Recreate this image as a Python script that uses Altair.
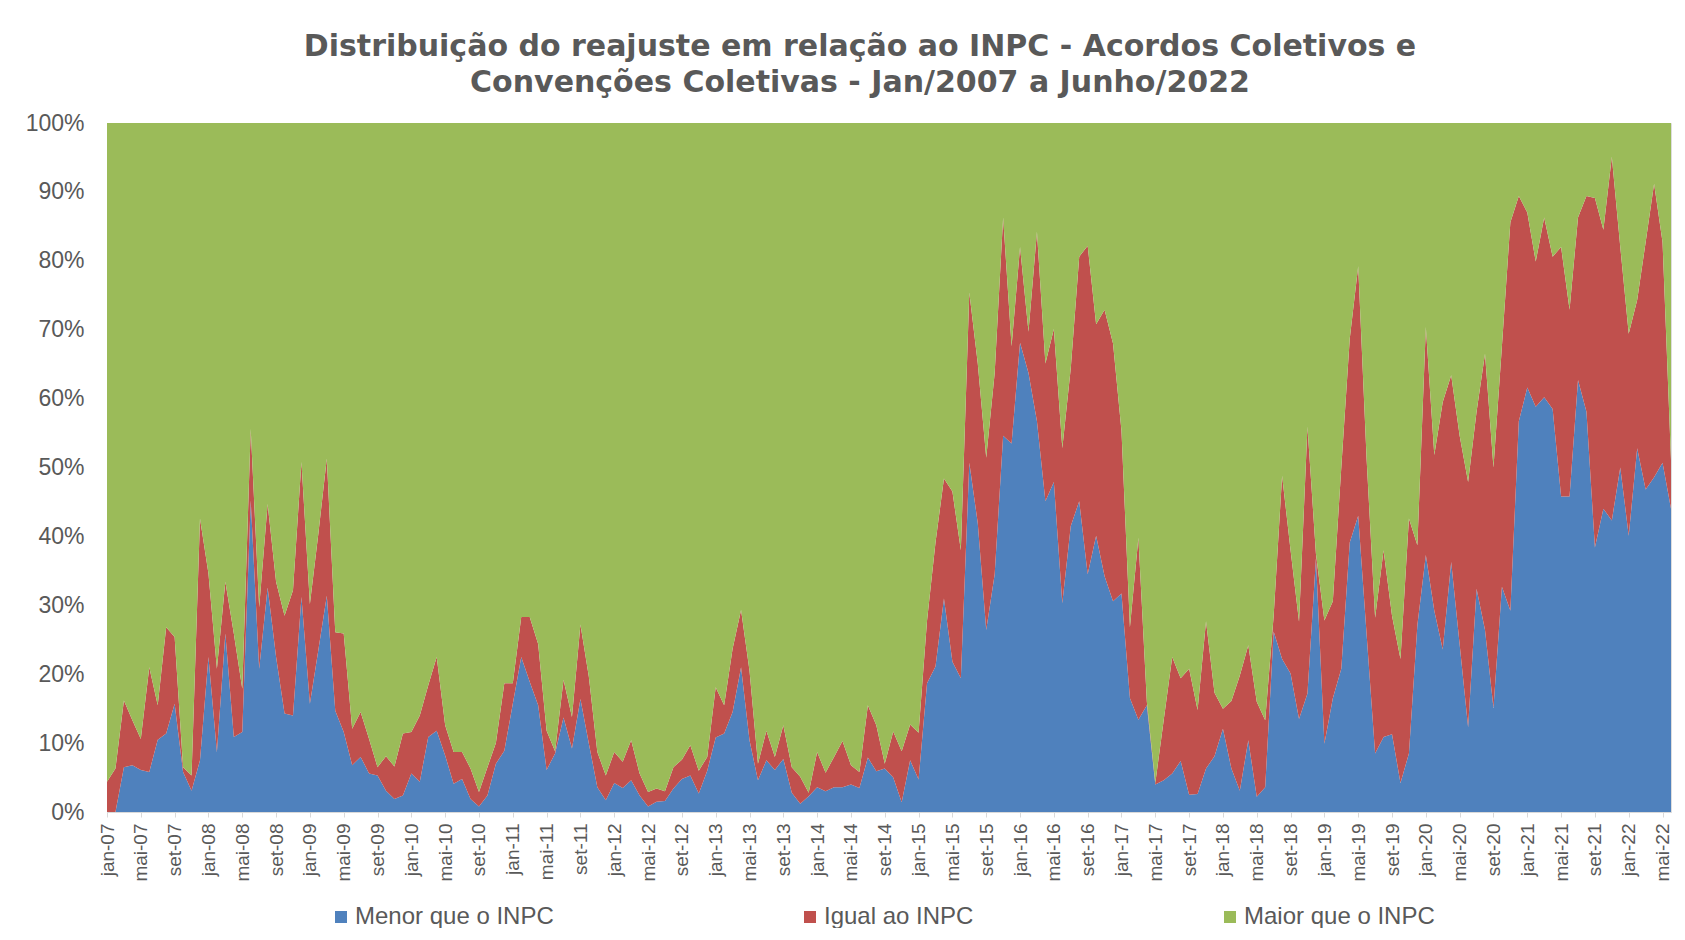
import altair as alt
import pandas as pd

# Month labels (jan-07 .. jun-22)
meses_pt = ["jan", "fev", "mar", "abr", "mai", "jun", "jul", "ago", "set", "out", "nov", "dez"]
anos = list(range(2007, 2023))
labels = [f"{m}-{a % 100:02d}" for a in anos for m in meses_pt][:186]
tick_index = list(range(0, len(labels), 4))

series = ["Menor que o INPC", "Igual ao INPC", "Maior que o INPC"]
colors = ["#4F81BD", "#C0504D", "#9BBB59"]

menor = [
    0.0, 0.0, 6.5, 6.8, 6.1, 5.8, 10.5, 11.4, 15.7, 5.8, 3.1, 7.5,
    22.5, 8.7, 25.9, 10.9, 11.6, 45.2, 20.8, 32.6, 22.5, 14.3, 14.0, 31.2,
    15.7, 23.5, 31.4, 14.7, 11.6, 6.8, 8.0, 5.6, 5.3, 3.1, 1.9, 2.4,
    5.6, 4.4, 10.9, 11.8, 8.2, 4.1, 4.8, 1.9, 0.8, 2.4, 7.0, 8.9,
    15.7, 22.5, 18.9, 15.5, 6.1, 8.5, 13.7, 9.2, 16.4, 9.9, 3.6, 1.7,
    4.2, 3.5, 4.6, 2.4, 0.8, 1.5, 1.6, 3.4, 4.8, 5.3, 2.7, 6.0,
    10.8, 11.4, 14.5, 21.0, 10.4, 4.6, 7.5, 6.1, 7.7, 2.8, 1.2, 2.3,
    3.6, 3.0, 3.6, 3.6, 4.0, 3.5, 7.9, 5.9, 6.3, 5.0, 1.4, 7.5,
    4.7, 18.7, 21.1, 31.0, 21.8, 19.4, 50.7, 41.9, 26.4, 34.5, 54.6, 53.5,
    68.1, 63.7, 56.7, 45.1, 47.9, 30.3, 41.5, 45.1, 34.5, 40.1, 34.2, 30.6,
    31.7, 16.5, 13.4, 15.5, 4.0, 4.6, 5.6, 7.4, 2.5, 2.6, 6.3, 8.1,
    12.1, 6.3, 3.1, 10.4, 2.2, 3.6, 26.2, 22.2, 20.1, 13.5, 17.2, 36.8,
    9.9, 16.5, 20.8, 39.1, 43.0, 25.7, 8.5, 10.9, 11.3, 4.2, 8.5, 27.1,
    37.3, 29.2, 23.6, 36.3, 24.3, 12.3, 32.4, 26.4, 15.1, 32.7, 29.2, 56.7,
    61.6, 58.8, 60.2, 58.5, 45.8, 45.8, 62.7, 58.1, 38.4, 44.0, 42.3, 50.0,
    40.1, 52.8, 46.8, 48.6, 50.7, 44.0,
]

igual = [
    4.4, 6.3, 9.7, 6.5, 4.5, 15.2, 5.0, 15.4, 9.7, 0.7, 2.2, 35.1,
    12.1, 12.1, 7.5, 15.0, 6.3, 10.4, 8.9, 12.1, 10.9, 14.2, 18.2, 19.6,
    14.5, 16.9, 19.9, 11.4, 14.3, 5.3, 6.5, 5.0, 1.2, 5.0, 4.7, 9.0,
    6.0, 9.6, 7.5, 10.7, 4.4, 4.6, 3.9, 4.4, 2.1, 4.1, 3.0, 9.8,
    3.0, 5.8, 9.4, 8.9, 5.7, 0.3, 5.5, 4.6, 10.8, 9.7, 5.1, 3.6,
    4.5, 3.8, 5.8, 3.2, 2.1, 1.9, 1.4, 3.1, 2.8, 4.4, 3.3, 2.0,
    7.3, 4.1, 9.2, 8.3, 10.1, 2.4, 4.3, 1.9, 4.9, 3.7, 3.9, 0.5,
    5.1, 2.7, 4.4, 6.7, 2.8, 2.3, 7.6, 6.7, 0.7, 6.7, 7.4, 5.2,
    6.8, 9.1, 18.0, 17.4, 24.7, 18.6, 24.7, 23.2, 25.0, 29.2, 31.7, 14.1,
    13.9, 6.0, 27.5, 20.0, 22.2, 22.5, 22.9, 35.5, 47.7, 30.7, 38.7, 37.4,
    23.6, 10.3, 26.4, 0.5, 0.2, 8.8, 16.9, 12.0, 18.3, 12.2, 21.4, 9.2,
    2.9, 9.8, 16.7, 13.8, 13.8, 9.7, 2.3, 26.6, 17.9, 14.1, 38.7, 0.7,
    17.9, 14.1, 29.2, 29.6, 36.2, 25.4, 19.7, 27.1, 17.2, 18.0, 34.1, 11.6,
    33.1, 22.6, 35.9, 27.1, 30.3, 35.6, 25.7, 40.1, 34.9, 34.9, 56.4, 32.7,
    25.4, 21.1, 26.1, 22.1, 36.2, 27.1, 23.6, 31.3, 50.7, 40.5, 52.8, 32.0,
    29.3, 21.5, 35.9, 42.6, 32.0, 7.1,
]

maior = [
    95.6, 93.7, 83.8, 86.7, 89.4, 79.0, 84.5, 73.2, 74.6, 93.5, 94.7, 57.4,
    65.4, 79.2, 66.6, 74.1, 82.1, 44.4, 70.3, 55.3, 66.6, 71.5, 67.8, 49.2,
    69.8, 59.6, 48.7, 73.9, 74.1, 87.9, 85.5, 89.4, 93.5, 91.9, 93.4, 88.6,
    88.4, 86.0, 81.6, 77.5, 87.4, 91.3, 91.3, 93.7, 97.1, 93.5, 90.0, 81.3,
    81.3, 71.7, 71.7, 75.6, 88.2, 91.2, 80.8, 86.2, 72.8, 80.4, 91.3, 94.7,
    91.3, 92.7, 89.6, 94.4, 97.1, 96.6, 97.0, 93.5, 92.4, 90.3, 94.0, 92.0,
    81.9, 84.5, 76.3, 70.7, 79.5, 93.0, 88.2, 92.0, 87.4, 93.5, 94.9, 97.2,
    91.3, 94.3, 92.0, 89.7, 93.2, 94.2, 84.5, 87.4, 93.0, 88.3, 91.2, 87.3,
    88.5, 72.2, 60.9, 51.6, 53.5, 62.0, 24.6, 34.9, 48.6, 36.3, 13.7, 32.4,
    18.0, 30.3, 15.8, 34.9, 29.9, 47.2, 35.6, 19.4, 17.8, 29.2, 27.1, 32.0,
    44.7, 73.2, 60.2, 84.0, 95.8, 86.6, 77.5, 80.6, 79.2, 85.2, 72.3, 82.7,
    85.0, 83.9, 80.2, 75.8, 84.0, 86.7, 71.5, 51.2, 62.0, 72.4, 44.1, 62.5,
    72.2, 69.4, 50.0, 31.3, 20.8, 48.9, 71.8, 62.0, 71.5, 77.8, 57.4, 61.3,
    29.6, 48.2, 40.5, 36.6, 45.4, 52.1, 41.9, 33.5, 50.0, 32.4, 14.4, 10.6,
    13.0, 20.1, 13.7, 19.4, 18.0, 27.1, 13.7, 10.6, 10.9, 15.5, 4.9, 18.0,
    30.6, 25.7, 17.3, 8.8, 17.3, 48.9,
]

rows = []
for i, lab in enumerate(labels):
    for k, (name, vals) in enumerate(zip(series, [menor, igual, maior])):
        rows.append({"idx": i, "mes": lab, "serie": name, "ord": k, "valor": vals[i]})
df = pd.DataFrame(rows)

label_js = "[" + ",".join("'" + s + "'" for s in labels) + "][datum.value]"

FONT = "Liberation Sans"
GREY = "#595959"

title = alt.TitleParams(
    text=["Distribuição do reajuste em relação ao INPC - Acordos Coletivos e",
          "Convenções Coletivas - Jan/2007 a Junho/2022"],
    font="DejaVu Sans", fontSize=30, fontWeight="bold", color=GREY,
    anchor="middle", dx=-29, offset=14, lineHeight=36,
)

chart = alt.Chart(df, title=title).mark_area(opacity=1).encode(
    x=alt.X("idx:Q",
            scale=alt.Scale(domain=[0, len(labels) - 1], nice=False, zero=False),
            axis=alt.Axis(values=tick_index, labelExpr=label_js,
                          labelAngle=270, title=None,
                          labelFont=FONT, labelFontSize=19, labelColor=GREY,
                          labelOverlap=False, labelFlush=False, labelBound=False,
                          domainColor="#D9D9D9", tickColor="#D9D9D9",
                          tickSize=5, labelPadding=6, grid=False)),
    y=alt.Y("valor:Q", stack="zero",
            scale=alt.Scale(domain=[0, 100], nice=False),
            axis=alt.Axis(values=list(range(0, 101, 10)),
                          labelExpr="datum.value + '%'", title=None,
                          labelFont=FONT, labelFontSize=23, labelColor=GREY,
                          labelOverlap=False, labelFlush=False,
                          domain=False, ticks=False, labelPadding=23,
                          grid=False)),
    color=alt.Color("serie:N",
                    scale=alt.Scale(domain=series, range=colors),
                    legend=alt.Legend(title=None, orient="none",
                                      legendX=222, legendY=782,
                                      direction="horizontal",
                                      symbolType="square", symbolSize=144,
                                      symbolOpacity=1, symbolStrokeWidth=0,
                                      labelFont=FONT, labelFontSize=24,
                                      labelColor=GREY, labelLimit=0,
                                      labelOffset=2, columnPadding=244)),
    order=alt.Order("ord:Q"),
).properties(
    width=1564, height=689,
    autosize=alt.AutoSizeParams(type="none"),
    padding={"left": 99, "top": 115, "right": 5, "bottom": 116},
).configure_view(stroke=None).configure(background="white")

chart.save("out.html", embed_options={"renderer": "svg", "actions": False})
